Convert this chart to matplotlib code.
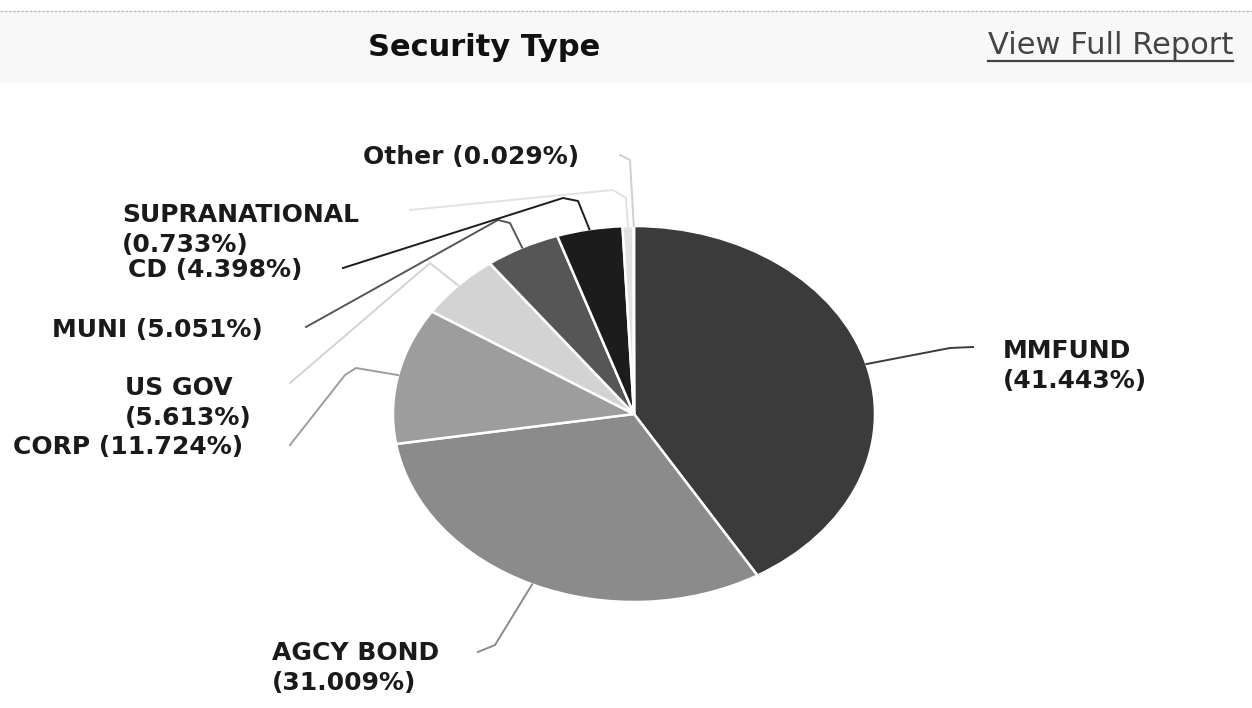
import numpy as np
from matplotlib import pyplot as plt
from matplotlib.patches import Rectangle

# Security type breakdown (percent)
names = ["MMFUND", "AGCY BOND", "CORP", "US GOV", "MUNI", "CD", "SUPRANATIONAL", "Other"]
shares = [41.443, 31.009, 11.724, 5.613, 5.051, 4.398, 0.733, 0.029]
slice_colors = ["#3b3b3b", "#8b8b8b", "#9d9d9d", "#d3d3d3", "#565656", "#1c1c1c", "#e2e2e2", "#cfcfcf"]
two_line = [True, True, False, True, False, False, True, False]

W, H = 1252, 708
fig = plt.figure(figsize=(W / 100, H / 100), dpi=100)

# pie geometry in pixels (the chart is stretched horizontally)
cx, cy, rx, ry = 634, 414, 241, 188
pad = 1.1
pie_ax = fig.add_axes([(cx - pad * rx) / W, (H - cy - pad * ry) / H,
                       2 * pad * rx / W, 2 * pad * ry / H])
pie_ax.pie(shares, colors=slice_colors, startangle=90, counterclock=False,
           wedgeprops=dict(edgecolor="white", linewidth=1.8))
pie_ax.set_aspect("auto")
pie_ax.set_xlim(-pad, pad)
pie_ax.set_ylim(-pad, pad)
pie_ax.axis("off")

# overlay in pixel coordinates for header, labels and connectors
ov = fig.add_axes([0, 0, 1, 1], zorder=3)
ov.set_xlim(0, W)
ov.set_ylim(H, 0)
ov.axis("off")

# header band
ov.add_patch(Rectangle((0, 12), W, 70, color="#f8f8f8", zorder=0))
ov.plot([0, W], [11, 11], color="#bbbbbb", lw=1, ls=(0, (2, 1)))
ov.text(484, 47, "Security Type", ha="center", va="center",
        fontsize=22, fontweight="bold", color="#111111")
link = ov.text(1233, 46, "View Full Report", ha="right", va="center",
               fontsize=22, color="#444444")
fig.canvas.draw()
bb = link.get_window_extent().transformed(ov.transData.inverted())
ov.plot([bb.x0, bb.x1], [61, 61], color="#444444", lw=1.6)

# label anchor (left x, centre y) and connector bend points, pixels
label_pos = [(1003, 366), (272, 668), (13, 447), (125, 403),
             (52, 330), (128, 270), (122, 230), (363, 157)]
bends = [
    [(973, 347), (950, 348)],
    [(478, 652), (495, 645)],
    [(290, 445), (345, 375), (356, 368)],
    [(290, 383), (430, 263)],
    [(306, 327), (498, 220), (510, 223)],
    [(343, 268), (563, 198), (578, 201)],
    [(410, 210), (613, 190), (626, 198)],
    [(620, 155), (630, 160)],
]

cum = np.cumsum([0] + shares)
for i, name in enumerate(names):
    mid = np.deg2rad((cum[i] + cum[i + 1]) / 2 * 3.6)
    ex = cx + rx * np.sin(mid)
    ey = cy - ry * np.cos(mid)
    pts = bends[i] + [(ex, ey)]
    xs, ys = zip(*pts)
    ov.plot(xs, ys, color=slice_colors[i], lw=1.4, zorder=2)
    sep = "\n" if two_line[i] else " "
    lx, ly = label_pos[i]
    ov.text(lx, ly, f"{name}{sep}({shares[i]:.3f}%)", ha="left", va="center",
            fontsize=18, fontweight="bold", color="#1a1a1a", linespacing=1.3)

fig.savefig("out.png", dpi=100)
